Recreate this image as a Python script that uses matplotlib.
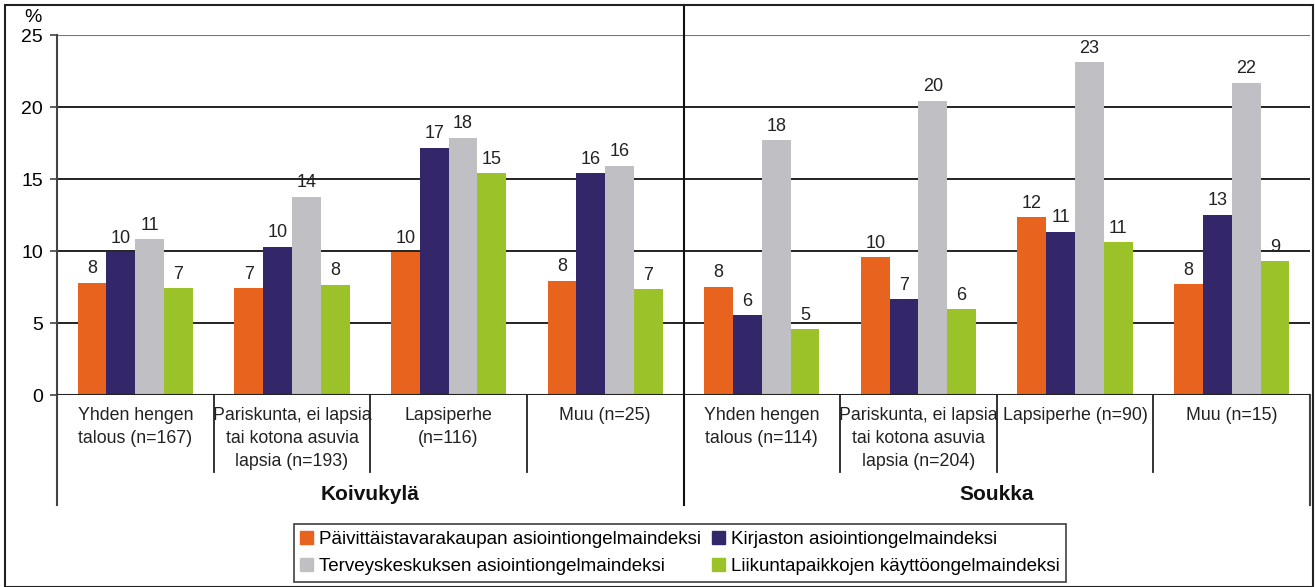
import numpy as np
import matplotlib.pyplot as plt
from matplotlib.lines import Line2D
from matplotlib.patches import Rectangle, Patch

plt.rcParams['font.family'] = ['Liberation Sans', 'DejaVu Sans']

categories = ['Yhden hengen\ntalous (n=167)', 'Pariskunta, ei lapsia\ntai kotona asuvia\nlapsia (n=193)',
              'Lapsiperhe\n(n=116)', 'Muu (n=25)',
              'Yhden hengen\ntalous (n=114)', 'Pariskunta, ei lapsia\ntai kotona asuvia\nlapsia (n=204)',
              'Lapsiperhe (n=90)', 'Muu (n=15)']
groups = ['Koivukylä', 'Soukka']

series = ['Päivittäistavarakaupan asiointiongelmaindeksi', 'Kirjaston asiointiongelmaindeksi',
          'Terveyskeskuksen asiointiongelmaindeksi', 'Liikuntapaikkojen käyttöongelmaindeksi']
colors = ['#E8641E', '#33276A', '#C0BFC4', '#9BC229']

paivittais = [7.8, 7.4, 9.9, 7.95, 7.5, 9.55, 12.35, 7.7]
kirjasto = [9.9, 10.3, 17.15, 15.4, 5.55, 6.65, 11.35, 12.5]
terveys = [10.8, 13.75, 17.85, 15.9, 17.7, 20.45, 23.1, 21.7]
liikunta = [7.4, 7.65, 15.4, 7.35, 4.55, 5.95, 10.6, 9.3]

lab_paivittais = [8, 7, 10, 8, 8, 10, 12, 8]
lab_kirjasto = [10, 10, 17, 16, 6, 7, 11, 13]
lab_terveys = [11, 14, 18, 16, 18, 20, 23, 22]
lab_liikunta = [7, 8, 15, 7, 5, 6, 11, 9]

values = [paivittais, kirjasto, terveys, liikunta]
labels = [lab_paivittais, lab_kirjasto, lab_terveys, lab_liikunta]

W, H = 1315, 587
fig = plt.figure(figsize=(W / 100, H / 100), dpi=100)
ax = fig.add_axes([57 / W, 1 - 395 / H, (1310 - 57) / W, 360 / H])

x = np.arange(len(categories))
w = 0.184
for i, (vals, labs) in enumerate(zip(values, labels)):
    pos = x + (i - 1.5) * w
    bars = ax.bar(pos, vals, w, color=colors[i], zorder=3)
    for b, l in zip(bars, labs):
        ax.annotate(str(l), (b.get_x() + b.get_width() / 2, b.get_height()),
                    xytext=(0, 4), textcoords='offset points',
                    ha='center', va='bottom', fontsize=13, color='#222222')

ax.set_xlim(-0.5, len(categories) - 0.5)
ax.set_ylim(0, 25)
ax.set_yticks([0, 5, 10, 15, 20, 25])
ax.tick_params(axis='y', labelsize=14, length=5, width=1.2, color='#444444', pad=5)
ax.set_xticks([])
for s in ['top', 'right', 'bottom']:
    ax.spines[s].set_visible(False)
ax.spines['left'].set_color('#444444')
ax.spines['left'].set_linewidth(1.5)
for yv in [5, 10, 15, 20]:
    ax.axhline(yv, color='#111111', lw=1.3, zorder=1)
ax.axhline(25, color='#777777', lw=1.5, zorder=1)
ax.axhline(0, color='#222222', lw=1.5, zorder=4)

fig.text(33 / W, 1 - 17 / H, '%', ha='center', va='center', fontsize=14)

tr = ax.get_xaxis_transform()
# separators under categories
for b in np.arange(-0.5, len(categories), 1.0):
    ax.add_line(Line2D([b, b], [0, -77 / 360], transform=tr, color='#222222', lw=1.3, clip_on=False))
# long lines: left axis, group divider, right edge
ax.add_line(Line2D([-0.5, -0.5], [0, -110 / 360], transform=tr, color='#444444', lw=1.5, clip_on=False))
ax.add_line(Line2D([3.5, 3.5], [390 / 360, -110 / 360], transform=tr, color='#111111', lw=1.5, clip_on=False))
ax.add_line(Line2D([7.5, 7.5], [0, -110 / 360], transform=tr, color='#444444', lw=1.5, clip_on=False))

for xi, c in zip(x, categories):
    ax.text(xi, -12 / 360, c, transform=tr, ha='center', va='top', fontsize=12.8,
            linespacing=1.45, color='#222222')

for gi, g in enumerate(groups):
    ax.text(gi * 4 + 1.5, -100 / 360, g, transform=tr, ha='center', va='center',
            fontsize=15, fontweight='bold', color='#111111')

handles = [Patch(color=c) for c in colors]
order = [0, 2, 1, 3]
leg = fig.legend([handles[i] for i in order], [series[i] for i in order], ncol=2,
                 loc='center', bbox_to_anchor=(680 / W, 1 - 553 / H), fontsize=13.5,
                 frameon=True, fancybox=False, edgecolor='#111111', handlelength=0.7,
                 handleheight=0.7, handletextpad=0.3, columnspacing=0.6, labelspacing=0.55,
                 borderpad=0.35, borderaxespad=0)
leg.get_frame().set_linewidth(1.2)

fig.patches.append(Rectangle((5 / W, 0), (1313 - 5) / W, 1 - 5 / H, transform=fig.transFigure,
                             fill=False, edgecolor='#222222', lw=1.5))

fig.savefig('out.png', dpi=100)
